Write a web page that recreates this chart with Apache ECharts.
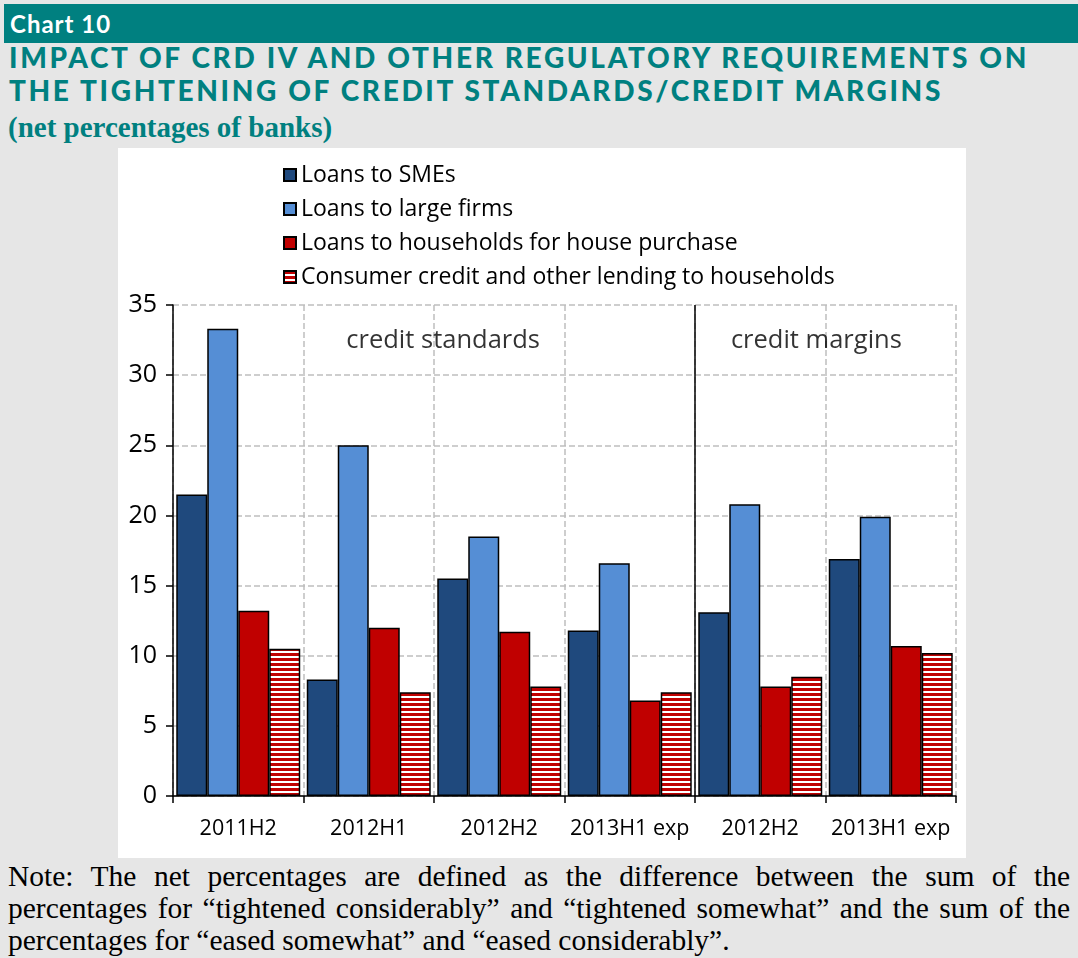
<!DOCTYPE html>
<html lang="en">
<head>
<meta charset="UTF-8">
<title>Chart 10</title>
<script src="https://cdn.jsdelivr.net/npm/echarts@6/dist/echarts.min.js"></script>
<style>
    * { margin: 0; padding: 0; }
    body {
        width: 1078px;
        height: 958px;
        background: #e6e6e6;
        position: relative;
        overflow: hidden;
    }
    /* header strip */
    .topbar {
        position: absolute;
        left: 4px; top: 4px;
        width: 1074px; height: 39px;
        background: #008080;
        color: #fff;
        font: bold 24px Lato, sans-serif;
        letter-spacing: 1px;
        line-height: 40px;
        padding-left: 6px;
        box-sizing: border-box;
    }
    .title {
        position: absolute;
        left: 9px; top: 41px;
        color: #008080;
        font: 900 28px Lato, sans-serif;
        line-height: 33px;
        letter-spacing: 2.65px;
    }
    .subtitle {
        position: absolute;
        left: 8px; top: 111px;
        color: #008080;
        font: bold 29px "Liberation Serif", serif;
    }
    #main {
        position: absolute;
        left: 118px; top: 148px;
        width: 848px; height: 710px;
        background: #fff;
    }
    .note {
        position: absolute;
        left: 8px; top: 860px;
        width: 1062px;
        font: 29.5px "Liberation Serif", serif;
        line-height: 32px;
        text-align: justify;
        color: #000;
    }
</style>
</head>
<body>
    <div class="topbar">Chart 10</div>
    <div class="title">IMPACT OF CRD IV AND OTHER REGULATORY REQUIREMENTS ON<br>THE TIGHTENING OF CREDIT STANDARDS/CREDIT MARGINS</div>
    <div class="subtitle">(net percentages of banks)</div>
    <div id="main"></div>
    <div class="note">Note: The net percentages are defined as the difference between the sum of the percentages for “tightened considerably” and “tightened somewhat” and the sum of the percentages for “eased somewhat” and “eased considerably”.</div>

<script>
    // data
    var categories = ['2011H2', '2012H1', '2012H2', '2013H1 exp', '2012H2', '2013H1 exp'];
    var seriesNames = [
        'Loans to SMEs',
        'Loans to large firms',
        'Loans to households for house purchase',
        'Consumer credit and other lending to households'
    ];
    var smes = [21.5, 8.3, 15.5, 11.8, 13.1, 16.9];
    var largeFirms = [33.3, 25.0, 18.5, 16.6, 20.8, 19.9];
    var housePurchase = [13.2, 12.0, 11.7, 6.8, 7.8, 10.7];
    var consumerCredit = [10.5, 7.4, 7.8, 7.4, 8.5, 10.2];
    // panel captions and where the two panels split (in category units)
    var panelLabels = [[2.07, 32.45, 'credit standards'], [4.93, 32.45, 'credit margins']];
    var panelSplit = [4];

    // red / white horizontal stripes
    var stripe = document.createElement('canvas');
    stripe.width = 4;
    stripe.height = 5;
    var ctx = stripe.getContext('2d');
    ctx.fillStyle = '#ffffff';
    ctx.fillRect(0, 0, 4, 5);
    ctx.fillStyle = '#c00000';
    ctx.fillRect(0, 0, 4, 3);

    var fills = ['#1f497d', '#558ed5', '#c00000', { image: stripe, repeat: 'repeat' }];
    var values = [smes, largeFirms, housePurchase, consumerCredit];

    var font = '"Open Sans", sans-serif';

    var series = seriesNames.map(function (name, i) {
        return {
            name: name,
            type: 'bar',
            xAxisIndex: 0,
            data: values[i],
            barGap: '0%',
            barCategoryGap: '5%',
            itemStyle: {
                color: fills[i],
                borderColor: '#000',
                borderWidth: 1.5
            }
        };
    });

    // captions + separator line
    series.push({
        type: 'scatter',
        xAxisIndex: 1,
        data: panelLabels,
        symbolSize: 0,
        silent: true,
        label: {
            show: true,
            position: 'inside',
            formatter: function (p) { return p.value[2]; },
            fontFamily: font,
            fontSize: 25.5,
            color: '#000'
        },
        markLine: {
            silent: true,
            symbol: 'none',
            label: { show: false },
            lineStyle: { color: '#000', width: 1.5, type: 'solid' },
            data: panelSplit.map(function (v) { return { xAxis: v }; })
        }
    });

    var myChart = echarts.init(document.getElementById('main'));
    myChart.setOption({
        animation: false,
        legend: {
            data: seriesNames,
            orient: 'vertical',
            icon: 'rect',
            left: 160,
            top: 10,
            itemWidth: 12,
            itemHeight: 12,
            itemGap: 10,
            textStyle: {
                fontFamily: font,
                fontSize: 23,
                lineHeight: 24,
                color: '#000'
            }
        },
        grid: { left: 55, right: 10, top: 157, bottom: 62 },
        xAxis: [
            {
                type: 'category',
                data: categories.map(function (c, i) { return String(i); }),
                axisLine: { lineStyle: { color: '#000', width: 1.5 } },
                axisTick: { show: true, length: 7, lineStyle: { color: '#000', width: 1.5 } },
                axisLabel: {
                    interval: 0,
                    formatter: function (v, i) { return categories[i]; },
                    fontFamily: font,
                    fontSize: 21.5,
                    color: '#000',
                    margin: 22
                },
                splitLine: { show: false }
            },
            {
                type: 'value',
                min: 0,
                max: 6,
                interval: 1,
                position: 'top',
                axisLine: { show: false },
                axisTick: { show: false },
                axisLabel: { show: false },
                splitLine: { show: true, lineStyle: { color: '#bfbfbf', type: 'dashed', width: 1.5 } }
            }
        ],
        yAxis: {
            type: 'value',
            min: 0,
            max: 35,
            interval: 5,
            axisLine: { show: true, lineStyle: { color: '#000', width: 1.5 } },
            axisTick: { show: true, length: 7, lineStyle: { color: '#000', width: 1.5 } },
            axisLabel: { fontFamily: font, fontSize: 25, color: '#000', margin: 16 },
            splitLine: { lineStyle: { color: '#bfbfbf', type: 'dashed', width: 1.5 } }
        },
        series: series
    });
</script>
</body>
</html>
